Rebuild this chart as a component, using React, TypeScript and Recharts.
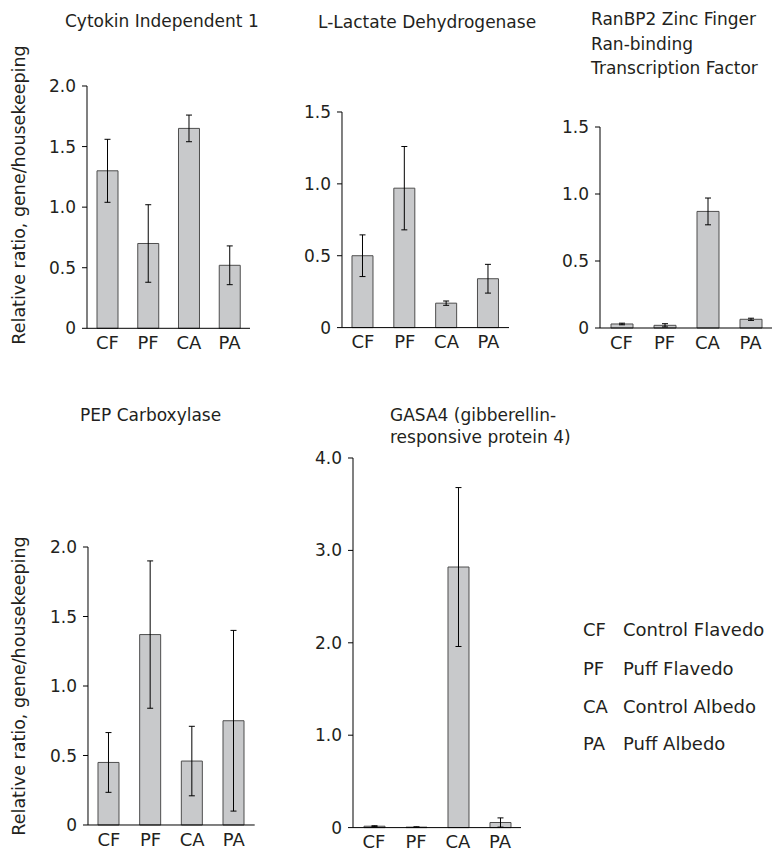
import React from 'react';
import { BarChart, Bar, XAxis, YAxis, ErrorBar } from 'recharts';

const categories = ['CF', 'PF', 'CA', 'PA'];

const cytokinValues = [1.3, 0.7, 1.65, 0.52];
const cytokinErrors = [0.26, 0.32, 0.11, 0.16];

const lactateValues = [0.5, 0.97, 0.17, 0.34];
const lactateErrors = [0.145, 0.29, 0.015, 0.1];

const ranbpValues = [0.03, 0.02, 0.87, 0.065];
const ranbpErrors = [0.006, 0.012, 0.1, 0.008];

const pepValues = [0.45, 1.37, 0.46, 0.75];
const pepErrors = [0.215, 0.53, 0.25, 0.65];

const gasaValues = [0.015, 0.005, 2.82, 0.055];
const gasaErrors = [0.005, 0.004, 0.86, 0.05];

const ticks15 = [0, 0.5, 1, 1.5];
const ticks20 = [0, 0.5, 1, 1.5, 2];
const ticks40 = [0, 1, 2, 3, 4];

const legendCodes = ['CF', 'PF', 'CA', 'PA'];
const legendNames = ['Control Flavedo', 'Puff Flavedo', 'Control Albedo', 'Puff Albedo'];

const yLabel = 'Relative ratio, gene/housekeeping';

const FONT = '"DejaVu Sans", sans-serif';
const TEXT = '#231f20';

const Y_AXIS_W = 60;
const X_AXIS_H = 30;

interface PanelProps {
  values: number[];
  errors: number[];
  ticks: number[];
  // plot area in page coordinates
  plotLeft: number;
  plotRight: number;
  plotTop: number;
  plotBottom: number;
  barSize: number;
}

const fmt = (v: number) => (v === 0 ? '0' : v.toFixed(1));

const Panel: React.FC<PanelProps> = ({ values, errors, ticks, plotLeft, plotRight, plotTop, plotBottom, barSize }) => {
  const data = categories.map((name, i) => ({ name, value: values[i], err: errors[i] }));
  const left = plotLeft - Y_AXIS_W;
  const top = plotTop - 12;
  const width = plotRight - left;
  const height = plotBottom - top + X_AXIS_H + 4;

  return (
    <div style={{ position: 'absolute', left, top }}>
      <BarChart
        width={width}
        height={height}
        data={data}
        margin={{ top: 12, right: 0, bottom: 4, left: 0 }}
      >
        <XAxis
          dataKey="name"
          tickLine={false}
          axisLine={{ stroke: '#000' }}
          tick={{ fontSize: 18, fontFamily: FONT, fill: TEXT }}
          height={X_AXIS_H}
          interval={0}
        />
        <YAxis
          width={Y_AXIS_W}
          domain={[ticks[0], ticks[ticks.length - 1]]}
          ticks={ticks}
          tickFormatter={fmt}
          tickSize={5}
          tickMargin={6}
          axisLine={{ stroke: '#000' }}
          tickLine={{ stroke: '#000' }}
          tick={{ fontSize: 17, fontFamily: FONT, fill: TEXT }}
        />
        <Bar
          dataKey="value"
          fill="#c8c9cb"
          stroke="#4d4d4d"
          strokeWidth={1}
          barSize={barSize}
          isAnimationActive={false}
        >
          <ErrorBar dataKey="err" width={3} stroke="#000" strokeWidth={1} />
        </Bar>
      </BarChart>
    </div>
  );
};

const Title: React.FC<{ left: number; top: number; lines: string[]; lineHeight: number }> = ({ left, top, lines, lineHeight }) => (
  <div style={{ position: 'absolute', left, top, fontSize: 17, lineHeight: `${lineHeight}px`, color: TEXT, whiteSpace: 'nowrap' }}>
    {lines.map((l) => (
      <div key={l}>{l}</div>
    ))}
  </div>
);

const YLabel: React.FC<{ cx: number; cy: number }> = ({ cx, cy }) => (
  <div
    style={{
      position: 'absolute',
      left: cx - 170,
      top: cy - 11,
      width: 340,
      height: 22,
      lineHeight: '22px',
      textAlign: 'center',
      fontSize: 17.5,
      color: TEXT,
      whiteSpace: 'nowrap',
      transform: 'rotate(-90deg)',
      transformOrigin: 'center',
    }}
  >
    {yLabel}
  </div>
);

export default function App() {
  return (
    <div
      style={{
        position: 'absolute',
        left: 0,
        top: 0,
        width: 772,
        height: 855,
        background: '#fff',
        fontFamily: FONT,
        overflow: 'hidden',
      }}
    >
      <Title left={65} top={9} lines={['Cytokin Independent 1']} lineHeight={24.5} />
      <Title left={318} top={9.5} lines={['L-Lactate Dehydrogenase']} lineHeight={24.5} />
      <Title left={591} top={7} lines={['RanBP2 Zinc Finger', 'Ran-binding', 'Transcription Factor']} lineHeight={24.5} />
      <Title left={80} top={402.5} lines={['PEP Carboxylase']} lineHeight={24.5} />
      <Title left={390} top={403.5} lines={['GASA4 (gibberellin-', 'responsive protein 4)']} lineHeight={22} />

      <YLabel cx={19} cy={195} />
      <YLabel cx={19} cy={686} />

      <Panel values={cytokinValues} errors={cytokinErrors} ticks={ticks20}
        plotLeft={87} plotRight={250} plotTop={86} plotBottom={328.3} barSize={21} />
      <Panel values={lactateValues} errors={lactateErrors} ticks={ticks15}
        plotLeft={341.7} plotRight={509} plotTop={111.7} plotBottom={327.3} barSize={21} />
      <Panel values={ranbpValues} errors={ranbpErrors} ticks={ticks15}
        plotLeft={600} plotRight={772} plotTop={127.3} plotBottom={328.3} barSize={22} />
      <Panel values={pepValues} errors={pepErrors} ticks={ticks20}
        plotLeft={88.3} plotRight={255} plotTop={547.3} plotBottom={825.3} barSize={21} />
      <Panel values={gasaValues} errors={gasaErrors} ticks={ticks40}
        plotLeft={352.7} plotRight={520.7} plotTop={457.7} plotBottom={827.3} barSize={21} />

      {legendCodes.map((code, i) => (
        <div
          key={code}
          style={{
            position: 'absolute',
            left: 583,
            top: [618.2, 656.6, 694.9, 731.6][i],
            fontSize: 18,
            lineHeight: '24px',
            color: TEXT,
            whiteSpace: 'nowrap',
          }}
        >
          <span style={{ display: 'inline-block', width: 40 }}>{code}</span>
          <span>{legendNames[i]}</span>
        </div>
      ))}
    </div>
  );
}
